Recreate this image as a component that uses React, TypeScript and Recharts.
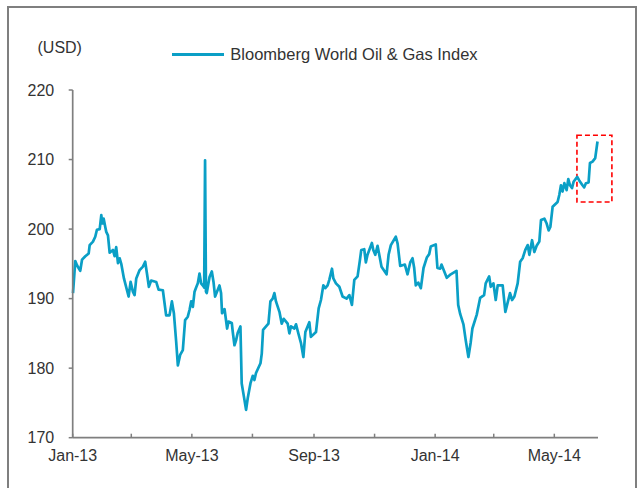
import React from 'react'
import { LineChart, Line, XAxis, YAxis, Legend, ReferenceArea } from 'recharts'

// days since 1 Jan 2013
const days = [
  0.3, 2.6, 4.3, 7.6, 9.4, 12.7, 16.1, 17.1, 20.4, 22.7, 24.4, 27.2, 28.8, 29.8, 31.2, 32.8, 33.8, 35.5,
  37.2, 40.5, 42.2, 43.8, 45.6, 47.3, 48.9, 51.6, 56.3, 58.3, 60.6, 62.3, 64.0, 67.4, 70.7, 73.0, 75.0,
  76.7, 79.0, 84.1, 86.5, 90.8, 94.1, 97.5, 99.9, 101.9, 104.2, 105.9, 108.2, 110.9, 113.2, 115.9, 117.7,
  119.3, 121.0, 122.7, 124.3, 126.0, 127.7, 129.3, 132.0, 132.4, 133.3, 134.2, 135.0, 137.8, 140.1, 141.8,
  143.4, 147.8, 149.4, 150.4, 152.9, 155.5, 156.9, 160.2, 161.2, 162.9, 164.5, 166.2, 168.9, 170.2, 173.0,
  174.6, 176.3, 179.0, 181.3, 183.0, 184.6, 189.1, 190.4, 191.7, 194.7, 197.1, 199.1, 201.4, 203.1, 204.7,
  208.2, 210.5, 212.5, 216.5, 218.2, 219.8, 223.2, 224.9, 227.6, 229.9, 232.3, 234.3, 238.3, 239.9, 245.0,
  247.7, 250.0, 252.4, 254.4, 256.7, 258.4, 261.1, 262.5, 265.1, 268.5, 271.8, 275.8, 278.6, 281.2, 283.6,
  286.9, 289.2, 290.6, 293.6, 295.2, 296.9, 301.3, 302.7, 304.7, 307.0, 311.0, 316.1, 318.1, 320.4, 325.4,
  327.2, 329.8, 334.5, 337.2, 339.9, 342.2, 343.9, 345.5, 348.0, 350.6, 353.3, 356.6, 359.0, 360.6, 365.6,
  367.3, 370.1, 371.4, 376.7, 380.7, 386.5, 388.2, 390.2, 393.5, 395.8, 398.5, 400.8, 402.5, 406.9, 410.3,
  414.3, 415.9, 419.4, 421.0, 423.7, 426.0, 428.0, 433.0, 435.7, 440.4, 442.5, 444.8, 448.1, 450.6, 453.1,
  455.8, 458.2, 459.9, 462.6, 464.9, 467.2, 469.9, 471.6, 475.0, 477.3, 479.3, 481.0, 483.3, 488.3, 490.0,
  491.7, 493.3, 495.1, 497.4, 499.1, 500.8, 502.8, 504.4, 508.1, 510.1, 513.4, 515.1, 516.8, 519.5, 520.9,
  523.5, 526.2, 528.5,
]

const oilGas = [
  190.8, 195.4, 194.8, 194.0, 195.6, 196.1, 196.5, 197.7, 198.2, 198.9, 199.9, 200.0, 202.0, 200.8, 201.5, 200.3, 199.6, 199.1,
  196.6, 197.0, 196.1, 197.4, 195.1, 195.8, 195.0, 192.9, 190.3, 192.4, 191.0, 190.5, 192.9, 194.1, 194.6, 195.3, 193.4,
  191.7, 192.6, 192.4, 191.3, 191.2, 187.6, 187.6, 189.6, 187.9, 183.8, 180.4, 181.9, 182.6, 186.9, 187.4, 188.4,
  189.6, 188.8, 191.0, 191.6, 192.2, 193.6, 192.2, 191.7, 191.6, 209.9, 191.0, 190.8, 193.1, 193.9, 192.4,
  190.3, 191.9, 190.8, 187.9, 188.5, 185.7, 186.7, 186.5, 185.2, 183.3, 184.0, 185.1, 186.0, 177.8, 175.4,
  174.0, 175.7, 177.8, 178.9, 178.3, 179.3, 180.7, 182.1, 185.5, 186.0, 186.4, 189.6, 190.0, 190.8, 189.6,
  188.1, 186.4, 187.1, 186.4, 185.0, 186.0, 185.7, 186.3, 184.8, 183.6, 181.6, 185.2, 186.6, 184.5, 185.2,
  188.6, 189.8, 191.9, 191.5, 191.9, 192.7, 194.3, 192.9, 192.2, 191.7, 190.3, 190.0, 190.5, 189.1, 192.7,
  193.2, 195.5, 197.0, 197.1, 195.2, 196.3, 198.0, 197.0, 196.3, 197.6, 194.6, 193.5, 196.3, 197.7, 198.9,
  197.9, 194.7, 194.9, 193.5, 195.2, 195.8, 194.4, 191.9, 192.3, 191.5, 194.4, 195.9, 196.4, 197.5, 197.8,
  194.4, 194.3, 194.9, 193.0, 193.5, 194.0, 189.1, 187.8, 186.3, 184.0, 181.6, 183.7, 185.7, 187.7, 190.1,
  190.5, 192.2, 193.2, 191.7, 192.2, 189.8, 191.9, 191.9, 188.1, 190.8, 189.8, 190.3, 192.2, 195.3, 195.8,
  197.0, 197.7, 196.3, 198.4, 196.7, 197.6, 198.2, 201.3, 201.5, 200.8, 199.8, 200.3, 203.2, 203.9, 204.9,
  206.3, 205.4, 206.6, 205.6, 207.2, 206.3, 205.9, 206.8, 207.5, 207.0, 206.3, 206.0, 206.6, 206.7, 209.5,
  209.7, 210.2, 212.6,
]

// tick marks every two months, labels every four
const tickDays = [0, 59, 120, 181, 243, 304, 365, 424, 485]
const tickLabels = ['Jan-13', '', 'May-13', '', 'Sep-13', '', 'Jan-14', '', 'May-14']
const yTicks = [170, 180, 190, 200, 210, 220]

const seriesName = 'Bloomberg World Oil & Gas Index'
const LINE_COLOR = '#0a9fc6'
const AXIS_COLOR = '#7f7f7f'
const TEXT_COLOR = '#333'
const FONT = '"Liberation Sans", Arial, sans-serif'
const X_TICK_MARGIN = 12.4

const data = days.map((d, i) => ({ day: d, value: oilGas[i] }))

function XTick(props: any) {
  const { x, y, payload } = props
  const idx = tickDays.indexOf(payload.value)
  const axisY = y - X_TICK_MARGIN
  return (
    <g>
      <line x1={x} y1={axisY} x2={x} y2={axisY - 4} stroke={AXIS_COLOR} strokeWidth={1.5} />
      <text x={x} y={y} dy="0.71em" textAnchor="middle" fill={TEXT_COLOR} fontSize={16} fontFamily={FONT}>
        {idx >= 0 ? tickLabels[idx] : ''}
      </text>
    </g>
  )
}

function LegendContent() {
  return (
    <div style={{ display: 'flex', alignItems: 'center', fontFamily: FONT, fontSize: 16.5, color: TEXT_COLOR }}>
      <span style={{ display: 'inline-block', width: 52, height: 2.5, background: LINE_COLOR, marginRight: 6 }} />
      <span>{seriesName}</span>
    </div>
  )
}

export default function App(): React.ReactElement {
  return (
    <div
      style={{
        position: 'absolute',
        left: 7,
        top: 6,
        width: 630,
        height: 482,
        boxSizing: 'border-box',
        borderTop: `2px solid ${AXIS_COLOR}`,
        borderLeft: `2px solid ${AXIS_COLOR}`,
        borderRight: `2px solid ${AXIS_COLOR}`,
        fontFamily: FONT,
      }}
    >
      <div style={{ position: 'absolute', left: 28.5, top: 31, fontSize: 16, color: TEXT_COLOR }}>(USD)</div>
      <LineChart width={620} height={478} data={data} margin={{ top: 82, right: 31, left: 0, bottom: 18.3 }}>
        <XAxis
          dataKey="day"
          type="number"
          domain={[0, 529]}
          ticks={tickDays}
          interval={0}
          height={30}
          tickSize={0}
          tickLine={false}
          tickMargin={X_TICK_MARGIN}
          tick={<XTick />}
          axisLine={{ stroke: AXIS_COLOR, strokeWidth: 1.7 }}
        />
        <YAxis
          type="number"
          domain={[170, 220]}
          ticks={yTicks}
          interval={0}
          width={63.7}
          tickSize={4}
          tickMargin={14.5}
          tickLine={{ stroke: AXIS_COLOR, strokeWidth: 1.5 }}
          axisLine={{ stroke: AXIS_COLOR, strokeWidth: 1.7 }}
          tick={{ fill: TEXT_COLOR, fontSize: 16, fontFamily: FONT }}
        />
        <Legend
          layout="horizontal"
          verticalAlign="middle"
          align="center"
          wrapperStyle={{ left: 163.3, top: 37, width: 'auto' }}
          content={<LegendContent />}
        />
        <ReferenceArea
          x1={507.8}
          x2={543}
          y1={203.9}
          y2={213.5}
          ifOverflow="visible"
          fill="none"
          stroke="#ff0000"
          strokeWidth={1.6}
          strokeDasharray="5 3"
        />
        <Line
          type="linear"
          dataKey="value"
          name={seriesName}
          stroke={LINE_COLOR}
          strokeWidth={2.7}
          strokeLinejoin="round"
          dot={false}
          activeDot={false}
          isAnimationActive={false}
        />
      </LineChart>
    </div>
  )
}
